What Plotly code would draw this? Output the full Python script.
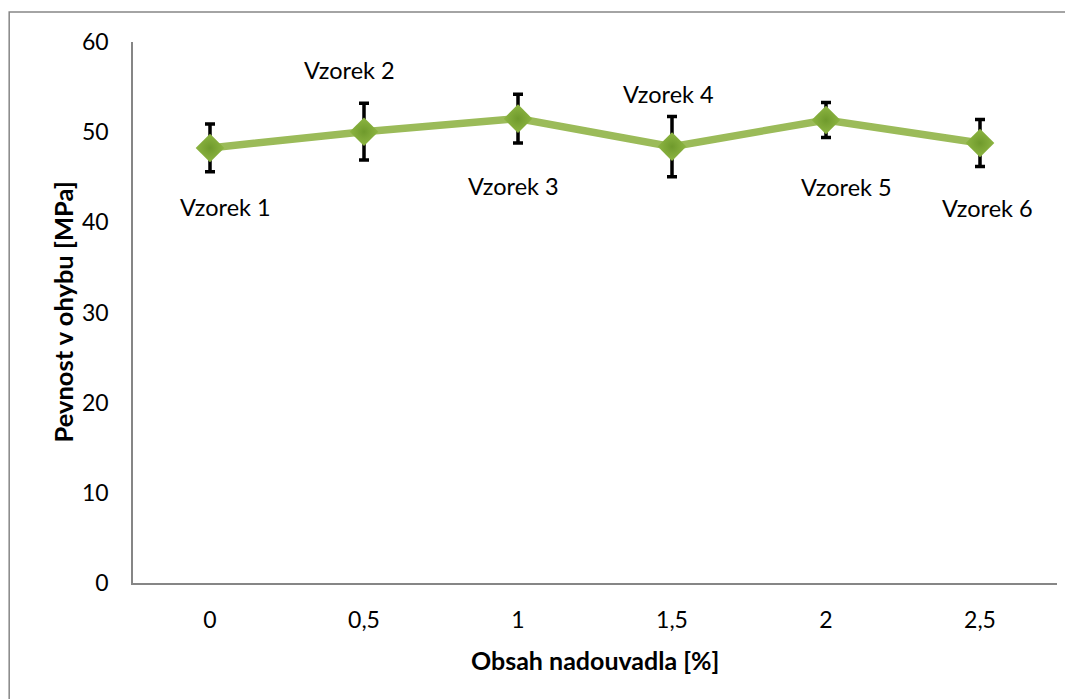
import plotly.graph_objects as go

categories = ["0", "0,5", "1", "1,5", "2", "2,5"]
strength = [48.25, 50.05, 51.5, 48.4, 51.35, 48.8]
error = [2.65, 3.15, 2.7, 3.35, 1.95, 2.6]
labels = ["Vzorek 1", "Vzorek 2", "Vzorek 3", "Vzorek 4", "Vzorek 5", "Vzorek 6"]
label_dx = [15, -15, -5, -4, 20, 7]
label_dy = [-59, 62, -67, 53, -67, -65]

FONT = "Lato"

fig = go.Figure()
fig.add_trace(go.Scatter(
    x=categories, y=strength, mode="lines+markers",
    line=dict(color="#9BBB59", width=7.5),
    marker=dict(symbol="diamond", size=22, color="#8DB542",
                line=dict(width=0),
                gradient=dict(type="radial", color="#6F9A2C")),
    error_y=dict(type="data", array=error, visible=True,
                 color="#000000", thickness=3.5, width=5),
    showlegend=False, hoverinfo="skip",
))

for i, (v, t, dx, dy) in enumerate(zip(strength, labels, label_dx, label_dy)):
    fig.add_annotation(x=i, y=v, xref="x", yref="y", text=t, showarrow=False,
                       xshift=dx, yshift=dy,
                       font=dict(family=FONT, size=23.5, color="#000000"))

# axis titles
fig.add_annotation(x=0.5, y=-0.1423, xref="paper", yref="paper",
                   text="<b>Obsah nadouvadla [%]</b>", showarrow=False,
                   xanchor="center", yanchor="middle",
                   font=dict(family=FONT, size=25, color="#000000"))
fig.add_annotation(x=-0.0768, y=0.5, xref="paper", yref="paper",
                   text="<b>Pevnost v ohybu [MPa]</b>", showarrow=False,
                   textangle=-90, xanchor="center", yanchor="middle",
                   font=dict(family=FONT, size=25.5, color="#000000"))

fig.add_shape(type="rect", xref="paper", yref="paper",
              x0=-0.1340, x1=1.0195, y0=-0.218, y1=1.0555,
              line=dict(color="#868686", width=1.5), layer="below")

fig.update_layout(
    width=1073, height=699,
    margin=dict(l=125, r=24, t=34, b=124, autoexpand=False),
    paper_bgcolor="white", plot_bgcolor="white",
    font=dict(family=FONT, size=23, color="#000000"),
    xaxis=dict(
        type="category", range=[-0.5, 5.5], showgrid=False, zeroline=False,
        automargin=False,
        showline=True, linecolor="#868686", linewidth=1.5,
        ticks="", ticklabelstandoff=16,
    ),
    yaxis=dict(
        range=[0, 60], dtick=10, showgrid=False, zeroline=False, automargin=False,
        showline=True, linecolor="#868686", linewidth=1.5,
        ticks="", ticklabelstandoff=18,
    ),
)

fig.write_html("out.html")
